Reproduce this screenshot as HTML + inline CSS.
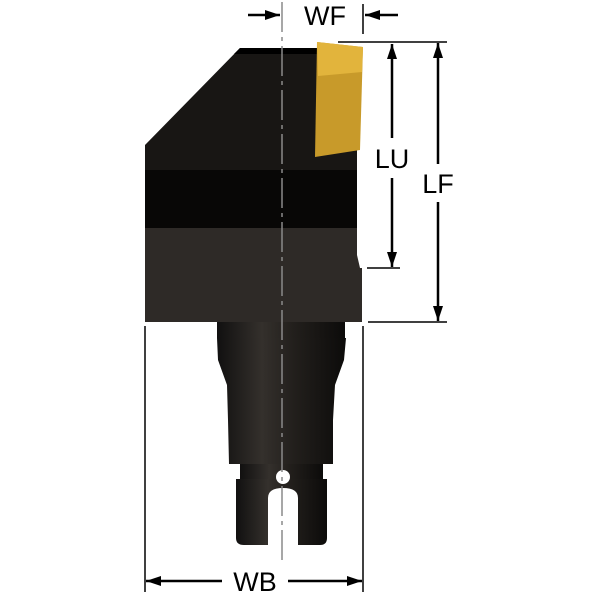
<!DOCTYPE html>
<html><head><style>body{margin:0;background:#fff}svg{display:block}</style></head><body>
<svg width="600" height="600" viewBox="0 0 600 600" xmlns="http://www.w3.org/2000/svg">
<defs>
<linearGradient id="sh" x1="0" x2="1" y1="0" y2="0">
<stop offset="0" stop-color="#111010"/><stop offset="0.35" stop-color="#34302c"/><stop offset="0.6" stop-color="#221f1c"/><stop offset="1" stop-color="#0c0b0a"/>
</linearGradient>
<marker id="a" viewBox="0 0 10 10" refX="10" refY="5" markerWidth="15" markerHeight="10" orient="auto-start-reverse" markerUnits="userSpaceOnUse" preserveAspectRatio="none"><path d="M0,0L10,5L0,10z" fill="#000"/></marker>
</defs>
<path d="M240,48 L357,48 L357,228 L145,228 L145,145 Z" fill="#181614"/>
<rect x="145" y="170" width="212" height="58" fill="#080706"/>
<path d="M145,228 L357,228 L357,255 L360,268 L362,268 L362,322 L145,322 Z" fill="#2e2a27"/>
<path d="M240,48 L320,48 L318,54 L234,54 Z" fill="#000"/>
<path d="M317,42 L363,47 L360,150 L315,157 Z" fill="#c89a2a"/>
<path d="M317,42 L363,47 L362,72 L318,76 Z" fill="#e2b43c"/>
<rect x="217" y="322" width="128" height="16" fill="url(#sh)"/>
<path d="M217,338 L346,338 L344,360 L335,385 L333,420 L333,464 L229,464 L228,420 L227,385 L218,360 Z" fill="url(#sh)"/>
<rect x="240" y="464" width="83" height="15" fill="url(#sh)"/>
<path d="M236,479 L327,479 L327,538 Q327,545 320,545 L298,545 L298,498 Q298,488 283,488 Q268,488 268,498 L268,545 L244,545 Q236,545 236,538 Z" fill="url(#sh)"/>
<circle cx="283" cy="477" r="7" fill="#fff"/>
<line x1="282" y1="2" x2="282" y2="565" stroke="#8a8a8a" stroke-width="1.5" stroke-dasharray="30,5,4,5"/>
<line x1="248" y1="15" x2="280" y2="15" stroke="#000" stroke-width="2.5" marker-end="url(#a)"/>
<line x1="363" y1="4" x2="363" y2="34" stroke="#000" stroke-width="1.5"/>
<line x1="398" y1="15" x2="365" y2="15" stroke="#000" stroke-width="2.5" marker-end="url(#a)"/>
<text x="325" y="25" font-family="Liberation Sans, sans-serif" font-size="27" text-anchor="middle">WF</text>
<line x1="338" y1="42" x2="447" y2="42" stroke="#000" stroke-width="1.5"/>
<line x1="367" y1="268" x2="400" y2="268" stroke="#000" stroke-width="1.5"/>
<line x1="392" y1="138" x2="392" y2="44" stroke="#000" stroke-width="2.5" marker-end="url(#a)"/>
<line x1="392" y1="178" x2="392" y2="267" stroke="#000" stroke-width="2.5" marker-end="url(#a)"/>
<text x="392" y="168" font-family="Liberation Sans, sans-serif" font-size="27" text-anchor="middle">LU</text>
<line x1="368" y1="322" x2="447" y2="322" stroke="#000" stroke-width="1.5"/>
<line x1="438" y1="164" x2="438" y2="43" stroke="#000" stroke-width="2.5" marker-end="url(#a)"/>
<line x1="438" y1="202" x2="438" y2="321" stroke="#000" stroke-width="2.5" marker-end="url(#a)"/>
<text x="438" y="193" font-family="Liberation Sans, sans-serif" font-size="27" text-anchor="middle">LF</text>
<line x1="145" y1="326" x2="145" y2="592" stroke="#000" stroke-width="1.5"/>
<line x1="363" y1="326" x2="363" y2="592" stroke="#000" stroke-width="1.5"/>
<line x1="222" y1="581" x2="146" y2="581" stroke="#000" stroke-width="2.5" marker-end="url(#a)"/>
<line x1="288" y1="581" x2="362" y2="581" stroke="#000" stroke-width="2.5" marker-end="url(#a)"/>
<text x="255" y="591" font-family="Liberation Sans, sans-serif" font-size="27" text-anchor="middle">WB</text>
</svg>
</body></html>
